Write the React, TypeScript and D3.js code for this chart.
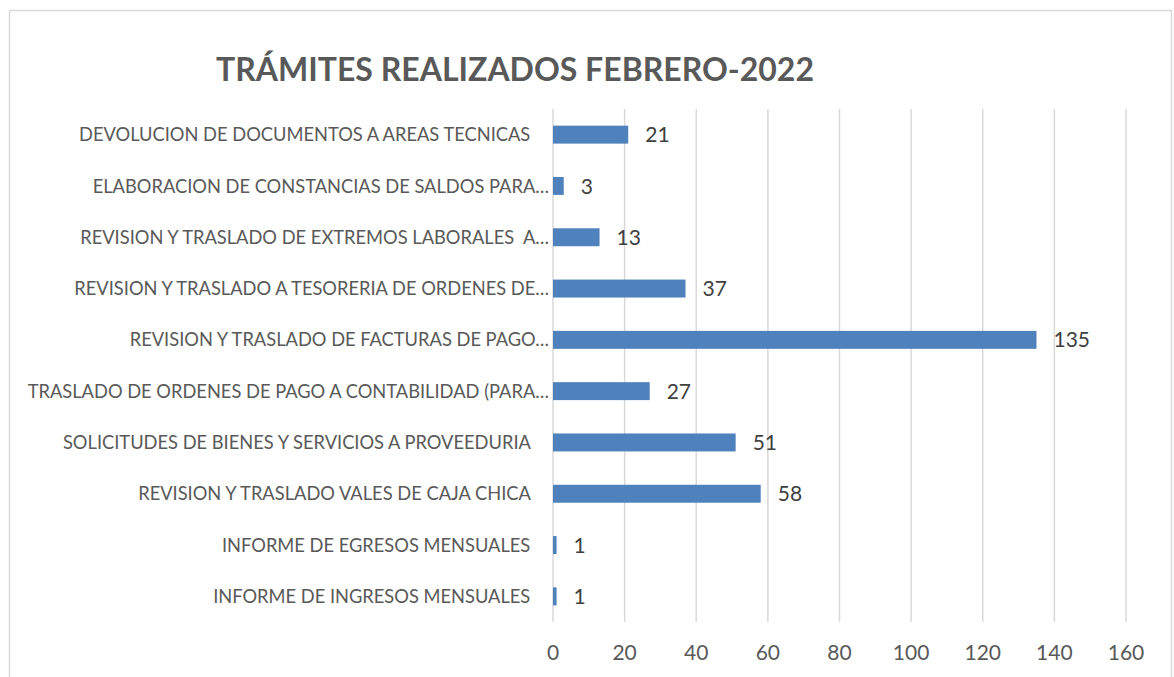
import React, { useEffect, useRef } from "react";
import * as d3 from "d3";

// categories top to bottom, as shown on the chart
const categories = [
  "DEVOLUCION DE DOCUMENTOS A AREAS TECNICAS    ",
  "ELABORACION DE CONSTANCIAS DE SALDOS PARA…",
  "REVISION Y TRASLADO DE EXTREMOS LABORALES  A…",
  "REVISION Y TRASLADO A TESORERIA DE ORDENES DE…",
  "REVISION Y TRASLADO DE FACTURAS DE PAGO…",
  "TRASLADO DE ORDENES DE PAGO A CONTABILIDAD (PARA…",
  "SOLICITUDES DE BIENES Y SERVICIOS A PROVEEDURIA    ",
  "REVISION Y TRASLADO VALES DE CAJA CHICA    ",
  "INFORME DE EGRESOS MENSUALES    ",
  "INFORME DE INGRESOS MENSUALES    ",
];
const values = [21, 3, 13, 37, 135, 27, 51, 58, 1, 1];
const xTicks = [0, 20, 40, 60, 80, 100, 120, 140, 160];
const title = "TRÁMITES REALIZADOS FEBRERO-2022";

const W = 1174;
const H = 677;

const App = () => {
  const svgRef = useRef<SVGSVGElement>(null);

  useEffect(() => {
    const margin = { top: 109, right: 48, bottom: 55, left: 553 };
    const svg = d3.select(svgRef.current);
    svg.selectAll("*").remove();

    const data = categories.map((c, i) => ({ name: c, value: values[i] }));

    // chart frame (bottom edge runs off the picture)
    svg
      .append("rect")
      .attr("x", 9.5)
      .attr("y", 10.5)
      .attr("width", 1162)
      .attr("height", 700)
      .attr("fill", "#fff")
      .attr("stroke", "#d9d9d9")
      .attr("stroke-width", 1.5);

    const x = d3
      .scaleLinear()
      .domain([0, 160])
      .range([margin.left, W - margin.right]);

    const y = d3
      .scaleBand()
      .domain(data.map((d) => d.name))
      .range([margin.top, H - margin.bottom])
      .paddingInner(0.65)
      .paddingOuter(0.325);

    // vertical gridlines
    svg
      .append("g")
      .selectAll("line")
      .data(xTicks)
      .enter()
      .append("line")
      .attr("x1", (d) => x(d))
      .attr("x2", (d) => x(d))
      .attr("y1", margin.top)
      .attr("y2", H - margin.bottom)
      .attr("stroke", "#d9d9d9")
      .attr("stroke-width", 1.5);

    // x tick labels
    svg
      .append("g")
      .selectAll("text")
      .data(xTicks)
      .enter()
      .append("text")
      .attr("x", (d) => x(d))
      .attr("y", 660)
      .attr("text-anchor", "middle")
      .attr("font-family", "Lato, sans-serif")
      .attr("font-size", 21)
      .attr("fill", "#595959")
      .text((d) => d);

    // category labels
    svg
      .append("g")
      .selectAll("text")
      .data(data)
      .enter()
      .append("text")
      .attr("x", margin.left - 4)
      .attr("y", (d) => y(d.name)! + y.bandwidth() / 2)
      .attr("dy", "0.36em")
      .attr("text-anchor", "end")
      .style("white-space", "pre")
      .attr("font-family", "Lato, sans-serif")
      .attr("font-size", 18.3)
      .attr("fill", "#595959")
      .text((d) => d.name);

    // bars
    svg
      .append("g")
      .selectAll("rect")
      .data(data)
      .enter()
      .append("rect")
      .attr("x", x(0))
      .attr("y", (d) => y(d.name)!)
      .attr("width", (d) => x(d.value) - x(0))
      .attr("height", y.bandwidth())
      .attr("fill", "#4f81bd");

    // value labels
    svg
      .append("g")
      .selectAll("text")
      .data(data)
      .enter()
      .append("text")
      .attr("x", (d) => x(d.value) + 17)
      .attr("y", (d) => y(d.name)! + y.bandwidth() / 2)
      .attr("dy", "0.36em")
      .attr("font-family", "Lato, sans-serif")
      .attr("font-size", 21)
      .attr("fill", "#404040")
      .text((d) => d.value);

    svg
      .append("text")
      .attr("x", 515)
      .attr("y", 81)
      .attr("text-anchor", "middle")
      .attr("font-family", "Lato, sans-serif")
      .attr("font-weight", "bold")
      .attr("font-size", 32)
      .attr("fill", "#595959")
      .text(title);
  }, []);

  return (
    <svg
      ref={svgRef}
      width={W}
      height={H}
      style={{ position: "absolute", left: 0, top: 0, background: "#fff" }}
    ></svg>
  );
};

export default App;
